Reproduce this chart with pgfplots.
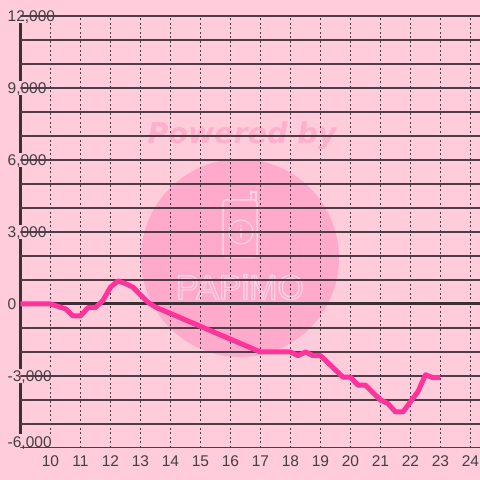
\documentclass[border=0pt]{standalone}
\usepackage{fontspec}
\setmainfont{Liberation Sans}
\newfontfamily\wmfont{DejaVu Sans}
\usepackage{pgfplots}
\pgfplotsset{compat=1.18}
\definecolor{bg}{HTML}{FFCCDB}
\definecolor{circ}{HTML}{FFAACB}
\definecolor{wmtext}{HTML}{FFAECB}
\definecolor{logo}{HTML}{FFD2E2}
\definecolor{gridc}{HTML}{4E3C46}
\definecolor{axisc}{HTML}{3A3035}
\definecolor{linec}{HTML}{FF3399}
\definecolor{labc}{HTML}{444044}
\newcommand\msix{-6,000}
\begin{document}
\begin{tikzpicture}
\fill[bg] (0,0) rectangle (480bp,480bp);
\useasboundingbox (0,0) rectangle (480bp,480bp);
\fill[circ] (240bp,222bp) circle (99bp);
\node[wmtext, font=\wmfont\bfseries\itshape\fontsize{28.5bp}{30bp}\selectfont] at (242bp,344bp) {Powered by};
\draw[logo, line width=1.5bp, rounded corners=3bp] (223bp,223bp) rectangle (257bp,280bp);
\draw[logo, line width=1.5bp] (251bp,280bp) -- (251bp,288bp) -- (256bp,288bp) -- (256bp,280bp);
\draw[logo, line width=1.2bp] (241bp,248bp) circle (12bp);
\node[logo, font=\fontsize{18bp}{18bp}\selectfont] at (241bp,248bp) {i};
\node[logo, font=\fontsize{34bp}{34bp}\selectfont] at (240bp,193bp) {\special{pdf:literal direct 1 Tr 1.3 w}PAPiMO\special{pdf:literal direct 0 Tr}};
\begin{axis}[
  at={(20.5bp,32bp)}, anchor=south west, scale only axis,
  width=459.5bp, height=432bp,
  xmin=9, xmax=24.317, ymin=-6000, ymax=12000,
  axis lines*=left,
  x axis line style={draw=none},
  y axis line style={line width=3.5bp, draw=axisc},
  scaled y ticks=false, scaled x ticks=false,
  xtick={10,...,24},
  xticklabels={10,11,12,13,14,15,16,17,18,19,20,21,22,23,24},
  ytick={-3000,0,3000,6000,9000,12000},
  yticklabels={{-3,000},{0},{3,000},{6,000},{9,000},{12,000}},
  extra y ticks={-6000},
  extra y tick labels={\msix},
  extra y tick style={yticklabel style={yshift=6.5bp}},
  xmajorgrids,
  major x grid style={gridc, line width=1bp, dash pattern=on 2bp off 2.5bp},
  major tick length=0pt, minor tick length=0pt,
  /pgf/number format/assume math mode=true,
  tick label style={font=\fontsize{15.5bp}{17bp}\selectfont, text=labc},
  yticklabel style={anchor=west, xshift=-15bp, fill=bg, inner xsep=2bp, inner ysep=1.5bp, text height=11bp, text depth=0pt},
  xticklabel style={text height=11bp, text depth=0pt, yshift=-4bp},
]
\pgfplotsinvokeforeach{-6000,-5000,-4000,-3000,-2000,-1000,1000,2000,3000,4000,5000,6000,7000,8000,9000,10000,11000,12000}{
  \draw[gridc, line width=1.2bp] (axis cs:9,#1) -- (axis cs:24.317,#1);
}
\draw[axisc, line width=3bp] (axis cs:9,0) -- (axis cs:24.317,0);
\addplot[linec, line width=5bp, line join=round] coordinates {
(9.0,0) (10.0,0) (10.5,-200) (10.75,-500) (11.0,-500) (11.25,-150) (11.5,-150)
(11.75,150) (12.0,700) (12.25,960) (12.5,850) (12.75,700) (13.0,380) (13.25,70)
(13.5,-130) (17.0,-2000) (18.0,-2000) (18.25,-2150) (18.5,-2000) (18.75,-2150)
(19.0,-2150) (19.75,-3050) (20.0,-3050) (20.25,-3380) (20.5,-3380) (21.0,-4000)
(21.25,-4150) (21.5,-4500) (21.75,-4500) (22.25,-3650) (22.5,-2950) (22.75,-3070)
(23.0,-3070)
};
\end{axis}
\end{tikzpicture}
\end{document}
